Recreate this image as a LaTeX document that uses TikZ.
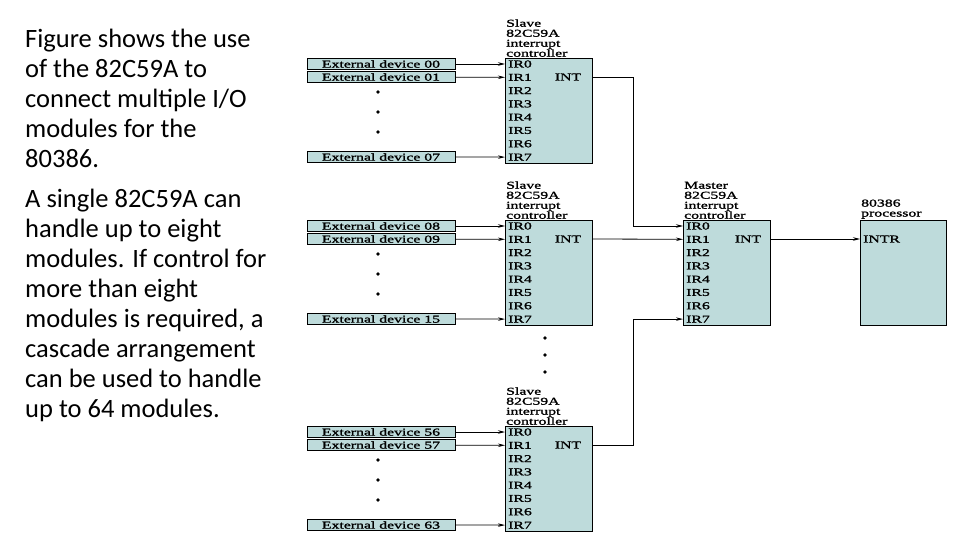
\documentclass[tikz,border=0pt]{standalone}
\usepackage{fontspec}
\setmainfont{Liberation Serif}
\newfontfamily\bodyfont{Carlito}
\newfontfamily\diafont{Liberation Serif}[FakeStretch=1.5, FakeBold=1.5]
\usetikzlibrary{arrows.meta}
\definecolor{chipfill}{RGB}{190,219,219}

\begin{document}
\begin{tikzpicture}[x=1pt, y=-1pt,
  chip/.style={draw, fill=chipfill, minimum width=87pt, minimum height=105pt, inner sep=0pt},
  pin/.style={anchor=west, font=\diafont\fontsize{10.5}{10.5}\selectfont, inner xsep=3pt, inner ysep=0pt},
  dev/.style={draw, fill=chipfill, minimum width=148pt, minimum height=11pt, inner sep=0pt, font=\diafont\fontsize{10.5}{10.5}\selectfont},
  title/.style={anchor=south west, align=left, inner sep=1pt, font=\diafont\fontsize{10.5}{10}\selectfont},
  wire/.style={-{Stealth[length=7pt, width=3.5pt]}, thick}
]
\useasboundingbox (0,0) rectangle (960,540);

% text on the left
\node [anchor=north west, align=left, inner sep=0pt, font=\bodyfont\fontsize{26.5}{30}\selectfont] (notes) at (25,29)
  {Figure shows the use\\of the 82C59A to\\connect multiple I/O\\modules for the\\80386.\\[10pt]
   A single 82C59A can\\handle up to eight\\modules. If control for\\more than eight\\modules is required, a\\cascade arrangement\\can be used to handle\\up to 64 modules.};

% slave controllers
\foreach \s/\top/\a/\b/\c in {1/58/00/01/07, 2/220/08/09/15, 3/426/56/57/63} {
  \node [chip, anchor=north west] (s\s) at (505,\top) {};
  \node [title] at (s\s.north west) {Slave\\82C59A\\interrupt\\controller};
  \foreach \k in {0,...,7}
    \node [pin] (s\s-ir\k) at (505,\top+6+13.3*\k) {IR\k};
  \node [pin, anchor=center] (s\s-int) at (568,\top+19) {INT};
  \node [dev] (d\a) at (381,\top+6) {External device \a};
  \node [dev] (d\b) at (381,\top+19) {External device \b};
  \node [dev] (d\c) at (381,\top+99) {External device \c};
  \draw [wire] (d\a) -- (s\s-ir0.west);
  \draw [wire] (d\b) -- (s\s-ir1.west);
  \draw [wire] (d\c) -- (s\s-ir7.west);
  \foreach \j in {0,1,2}
    \fill (378,\top+34+20*\j) circle (1.8);
}

% dots between the slaves
\foreach \j in {0,1,2}
  \fill (545,338+17*\j) circle (1.8);

% master controller
\node [chip, anchor=north west] (m) at (683,220) {};
\node [title] at (m.north west) {Master\\82C59A\\interrupt\\controller};
\foreach \k in {0,...,7}
  \node [pin] (m-ir\k) at (683,226+13.3*\k) {IR\k};
\node [pin, anchor=center] (m-int) at (748,239) {INT};

% processor
\node [chip, anchor=north west, minimum width=86pt] (p) at (860,220) {};
\node [title] at (p.north west) {80386\\processor};
\node [pin] (p-intr) at (860,239) {INTR};

% cascade wiring
\coordinate (bus) at (633,0);
\draw [wire] (s1.east |- s1-int) -| (bus |- m-ir0) -- (m-ir0.west);
\draw [wire] (s2.east |- s2-int) -- (m-ir1.west);
\draw [wire] (s3.east |- s3-int) -| (bus |- m-ir7) -- (m-ir7.west);
\draw [wire] (m.east |- m-int) -- (p-intr.west);
\end{tikzpicture}
\end{document}
